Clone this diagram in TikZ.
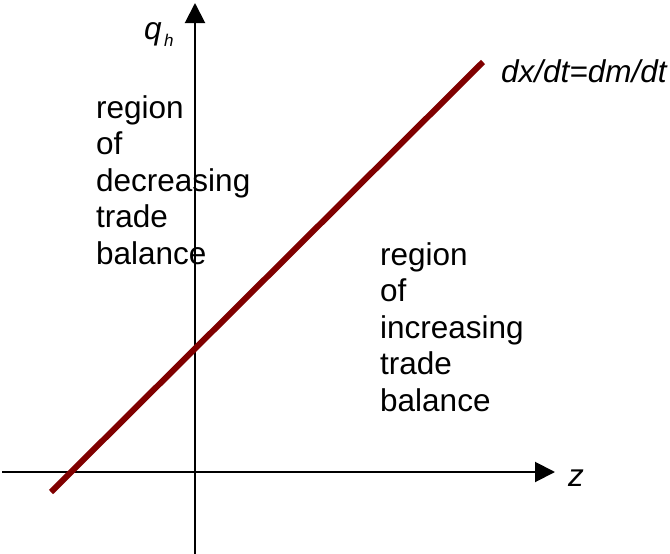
\documentclass[tikz,border=0pt]{standalone}
\usepackage{fontspec}
\setmainfont{Liberation Sans}
\usetikzlibrary{arrows.meta}
\definecolor{curvered}{RGB}{128,0,0}
\tikzset{
  axis/.style={line width=2pt,-{Triangle[length=20pt,width=20pt]}},
  locus/.style={line width=6pt,curvered},
  lbl/.style={anchor=base west,inner sep=0pt,font=\fontsize{31.5}{36.6}\selectfont},
  ital/.style={anchor=base west,inner sep=0pt,font=\fontsize{31.5}{36.6}\selectfont\itshape}
}
\begin{document}
\begin{tikzpicture}[x=1pt,y=-1pt]
\useasboundingbox (0,0) rectangle (670,554);
% axes
\coordinate (ybot) at (195,554);
\coordinate (ytop) at (195,3);
\coordinate (xleft) at (2,472);
\coordinate (xright) at (555,472);
\draw[axis] (ybot) -- (ytop);
\draw[axis] (xleft) -- (xright);
% line
\coordinate (la) at (51,492);
\coordinate (lb) at (483,62);
\draw[locus] (la) -- (lb);
% labels
\node[ital] (qlab) at (144,39) {q};
\node[ital,font=\fontsize{17}{20}\selectfont\itshape] (hlab) at (164,46) {h};
\node[ital] (zlab) at (568,486) {z};
\node[ital] (eqlab) at (501,82) {dx/dt=dm/dt};
% left region text
\foreach \t [count=\i] in {region,of,decreasing,trade,balance}
  \node[lbl] (L\i) at (96,{118+36.6*(\i-1)}) {\t};
% right region text
\foreach \t [count=\i] in {region,of,increasing,trade,balance}
  \node[lbl] (R\i) at (380,{265+36.6*(\i-1)}) {\t};
\end{tikzpicture}
\end{document}
